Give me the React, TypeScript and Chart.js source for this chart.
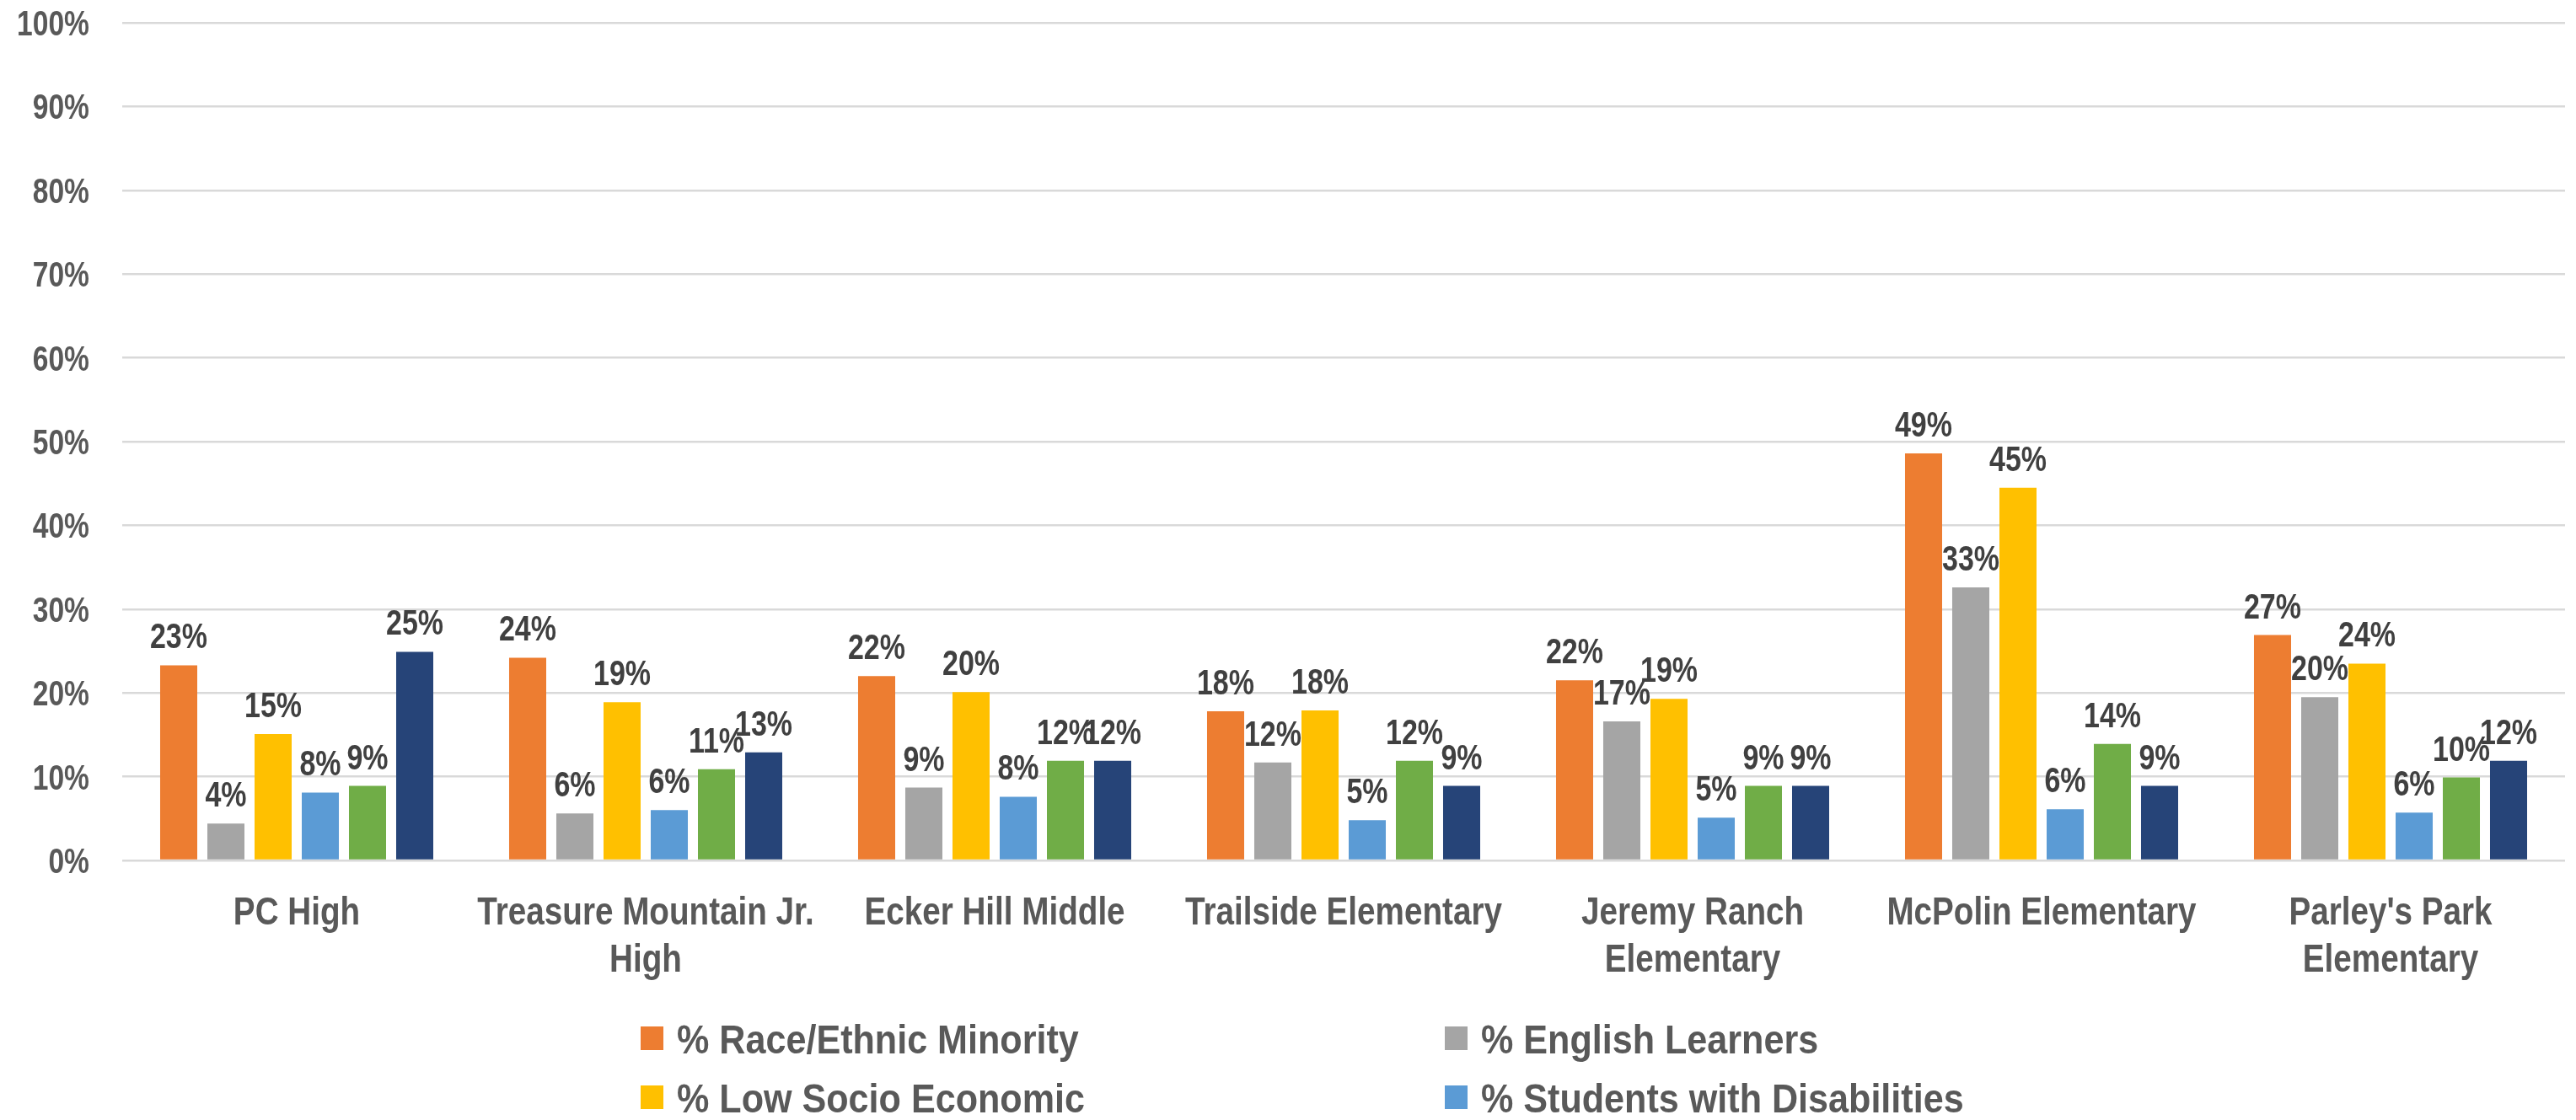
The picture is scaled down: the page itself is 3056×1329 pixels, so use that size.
import React, { useEffect, useRef } from 'react';
import { Chart, registerables } from 'chart.js';

Chart.register(...registerables);

const FONT = '"Liberation Sans Narrow", "Arial Narrow", "Liberation Sans", Arial, sans-serif';

const categories: (string | string[])[] = [
  'PC High',
  ['Treasure Mountain Jr.', 'High'],
  'Ecker Hill Middle',
  'Trailside Elementary',
  ['Jeremy Ranch', 'Elementary'],
  'McPolin Elementary',
  ["Parley's Park", 'Elementary'],
];

const seriesNames = [
  '% Race/Ethnic Minority',
  '% English Learners',
  '% Low Socio Economic',
  '% Students with Disabilities',
  '% Mobility',
  '% Chronically Absent',
];

const seriesColors = ['#ED7D31', '#A5A5A5', '#FFC000', '#5B9BD5', '#70AD47', '#264478'];

const raceMinority = [23.3, 24.2, 22.0, 17.8, 21.5, 48.6, 26.9];
const englishLearners = [4.4, 5.6, 8.7, 11.7, 16.6, 32.6, 19.5];
const lowSocioEconomic = [15.1, 18.9, 20.1, 17.9, 19.3, 44.5, 23.5];
const disabilities = [8.1, 6.0, 7.6, 4.8, 5.1, 6.1, 5.7];
const mobility = [8.9, 10.9, 11.9, 11.9, 8.9, 13.9, 9.9];
const chronicallyAbsent = [24.9, 12.9, 11.9, 8.9, 8.9, 8.9, 11.9];

const seriesValues = [raceMinority, englishLearners, lowSocioEconomic, disabilities, mobility, chronicallyAbsent];

const yTickValues = [0, 10, 20, 30, 40, 50, 60, 70, 80, 90, 100];
const yTickLabels = yTickValues.map((v) => `${v}%`);

// Draw text horizontally condensed (the original uses a narrow typeface)
function narrowText(ctx: CanvasRenderingContext2D, text: string, x: number, y: number, align: CanvasTextAlign, sx: number) {
  ctx.save();
  ctx.translate(x, y);
  ctx.scale(sx, 1);
  ctx.textAlign = align;
  ctx.fillText(text, 0, 0);
  ctx.restore();
}

const axisTextPlugin = {
  id: 'axisText',
  afterDraw(chart: any) {
    const ctx: CanvasRenderingContext2D = chart.ctx;
    const xs = chart.scales.x;
    const ys = chart.scales.y;
    ctx.save();
    ctx.textBaseline = 'alphabetic';
    ctx.fillStyle = '#595959';
    // y tick labels
    ctx.font = `bold 42px ${FONT}`;
    ys.ticks.forEach((t: any, i: number) => {
      const y = ys.getPixelForValue(t.value);
      narrowText(ctx, yTickLabels[i], chart.chartArea.left - 39, y + 15, 'right', 0.8);
    });
    // x category labels
    ctx.font = `bold 46px ${FONT}`;
    const lines0 = chart.chartArea.bottom + 76;
    (chart.data.labels as any[]).forEach((lab: any, i: number) => {
      const x = xs.getPixelForTick(i);
      const lines: string[] = Array.isArray(lab) ? lab : [lab];
      lines.forEach((ln, k) => {
        narrowText(ctx, ln, x, lines0 + k * 56, 'center', 0.84);
      });
    });
    ctx.restore();
  },
};

const valueLabelPlugin = {
  id: 'valueLabels',
  afterDatasetsDraw(chart: any) {
    const ctx: CanvasRenderingContext2D = chart.ctx;
    ctx.save();
    ctx.font = `bold 42px ${FONT}`;
    ctx.fillStyle = '#404040';
    ctx.textBaseline = 'alphabetic';
    chart.data.datasets.forEach((ds: any, i: number) => {
      const meta = chart.getDatasetMeta(i);
      meta.data.forEach((bar: any, j: number) => {
        const v = ds.data[j] as number;
        narrowText(ctx, `${Math.round(v)}%`, bar.x, bar.y - 20, 'center', 0.81);
      });
    });
    ctx.restore();
  },
};

const gridLegendPlugin = {
  id: 'gridLegend',
  afterDraw(chart: any) {
    const ctx: CanvasRenderingContext2D = chart.ctx;
    const colX = [752, 1706];
    const baseline0 = 1242;
    const rowStep = 70;
    const box = 27;
    ctx.save();
    ctx.font = `bold 49px ${FONT}`;
    ctx.textBaseline = 'alphabetic';
    chart.data.datasets.forEach((ds: any, i: number) => {
      const col = i % 2;
      const row = Math.floor(i / 2);
      const x = colX[col];
      const yb = baseline0 + row * rowStep;
      ctx.fillStyle = ds.backgroundColor;
      ctx.fillRect(x, yb - 32, box, box + 1);
      ctx.fillStyle = '#595959';
      narrowText(ctx, ds.label, x + 43, yb, 'left', 0.88);
    });
    ctx.restore();
  },
};

export default function App() {
  const canvasRef = useRef<HTMLCanvasElement | null>(null);

  useEffect(() => {
    if (!canvasRef.current) return;
    const chart = new Chart(canvasRef.current, {
      type: 'bar',
      data: {
        labels: categories as any,
        datasets: seriesNames.map((name, i) => ({
          label: name,
          data: seriesValues[i],
          backgroundColor: seriesColors[i],
          borderWidth: 0,
          categoryPercentage: 0.8116,
          barPercentage: 0.786,
        })),
      },
      options: {
        animation: false,
        responsive: true,
        maintainAspectRatio: false,
        layout: { padding: { top: 19, right: 5, bottom: 156, left: 0 } },
        plugins: {
          legend: { display: false },
          tooltip: { enabled: false },
        },
        scales: {
          x: {
            grid: { display: false, drawTicks: false },
            border: { display: false },
            ticks: { display: false, autoSkip: false, maxRotation: 0 },
            afterFit(scale: any) {
              scale.height = 144;
            },
          },
          y: {
            min: 0,
            max: 100,
            grid: { color: '#d9d9d9', lineWidth: 2.5, drawTicks: false },
            border: { display: false },
            afterBuildTicks(scale: any) {
              scale.ticks = yTickValues.map((v) => ({ value: v }));
            },
            ticks: { display: false },
            afterFit(scale: any) {
              scale.width = 137;
            },
          },
        },
      },
      plugins: [valueLabelPlugin, axisTextPlugin, gridLegendPlugin],
    });
    return () => chart.destroy();
  }, []);

  return (
    <div style={{ position: 'relative', width: '100%', height: '1313px' }}>
      <canvas ref={canvasRef} />
    </div>
  );
}
